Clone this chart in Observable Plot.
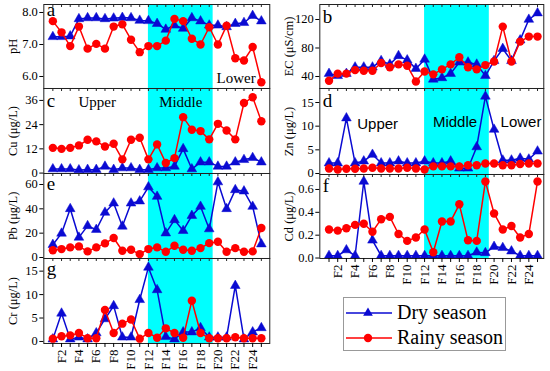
<!DOCTYPE html>
<html><head><meta charset="utf-8">
<script src="https://cdn.jsdelivr.net/npm/d3@7"></script>
<script src="https://cdn.jsdelivr.net/npm/@observablehq/plot@0.6"></script>
<style>
body{margin:0;background:#fff;}
#chart{position:relative;width:550px;height:371px;overflow:hidden;font-family:"Liberation Serif",serif;}
#chart svg{font-family:"Liberation Serif",serif !important;}
.p{position:absolute;}
</style></head><body><div id="chart"></div>
<script>
const sites = ["F1","F2","F3","F4","F5","F6","F7","F8","F9","F10","F11","F12","F13","F14","F15","F16","F17","F18","F19","F20","F21","F22","F23","F24","F25"];
const middleBand = [12, 19.45];

const phDry   = [7.24,7.24,7.26,7.8,7.83,7.83,7.8,7.82,7.84,7.83,7.75,7.74,7.65,7.47,7.6,7.5,7.83,7.73,7.6,7.6,7.55,7.65,7.68,7.9,7.73];
const phRainy = [7.73,7.38,6.95,7.56,6.87,7.02,6.87,7.56,7.63,7.15,6.76,6.95,6.95,7.12,7.8,7.73,7.18,7.0,7.54,7.0,7.59,6.57,6.5,6.92,5.82];
const ecDry   = [44,41,44,53,53,53,62,57,69,63,51,64,36,38,44,60,60,57,41,62,79,62,91,120,129];
const ecRainy = [34,44,44,49,48,48,59,53,57,55,33,47,43,50,57,67,53,50,56,61,110,61,89,96,96];
const cuDry   = [2,2,2,1.5,1.7,1.7,3.3,1.7,2.5,2.5,1.7,1.7,2.5,2.5,3.3,12,2,5.4,5.4,3.3,3.3,5.4,6.6,7.6,5.4];
const cuRainy = [12.5,12,12.5,13.7,16.5,15.7,13.2,14.5,6.8,16.5,17.5,6.8,14.2,5,7.4,27.7,21.5,20.8,16.7,24.4,21.1,16.7,34.7,37.6,25.7];
const znDry   = [2.2,2.2,11.7,2.2,2.6,4,2.2,2.2,2.6,2.2,2.2,2.6,2.2,2.2,2.6,1.1,1.1,5.6,16.3,9.3,2.8,2.8,3.2,3,4.7];
const znRainy = [1.05,0.85,1,1,1.05,1.2,1.05,1.05,1.05,1.2,1.05,0.85,1.5,1.5,1.5,1.5,1.75,1.75,2.1,2.1,1.75,1.75,2,2.1,2.1];
const pbDry   = [10.5,19.8,40,16.5,26,22.9,37,44.6,25.6,44.6,46.3,57.9,50.1,20,30.9,22,34.4,41.9,23.4,62,40,55.6,54.5,41.9,11];
const pbRainy = [6,6.9,8.3,9.1,5,8.3,11.6,16,5.5,6.3,2.8,6.9,8.3,4.7,9.6,6.3,5.5,7.7,11.8,12.9,4.7,7.7,4.7,5,24.2];
const cdDry   = [0.02,0.02,0.07,0.02,0.67,0.155,0.02,0.02,0.02,0.02,0.02,0.02,0.02,0.02,0.02,0.02,0.02,0.05,0.045,0.1,0.09,0.06,0.02,0.02,0.02];
const cdRainy = [0.25,0.24,0.26,0.29,0.3,0.23,0.34,0.36,0.21,0.15,0.18,0.25,0.05,0.32,0.32,0.47,0.155,0.15,0.67,0.39,0.25,0.28,0.18,0.21,0.67];
const crDry   = [0.5,6,0.5,0.9,0.5,1.8,4.8,7.6,0.9,0.9,8.9,15.8,11,1,0.5,2,2,2.9,0.9,0.9,0.9,11.9,0.5,2,2.9];
const crRainy = [0.6,1.1,1.3,1.8,0.7,0.7,6.7,1.8,3.8,4.7,0.6,1.8,0.8,2.8,1.8,0.8,8.7,1.8,0.7,0.7,0.7,0.9,0.7,0.7,0.7];

const seriesNames = ["Dry season","Rainy season"];
const DRY = "#0a0ad2", RAINY = "#ff0000";
const chart = document.getElementById("chart");
const xs = sites.map((s, i) => i + 1);
const rows = vals => vals.map((v, i) => ({x: i + 1, y: v}));
const midX = (middleBand[0] + middleBand[1]) / 2;

function panel(o) {
  const {left, top, h, width, mL, xDomain, yDomain, yTicks, yFormat, dry, rainy, label, letter, letterDy, notes = [], bottom = false} = o;
  const marks = [
    Plot.rect([middleBand], {x1: d => d[0], x2: d => d[1], fill: "#00ffff"}),
    Plot.line(rows(dry), {x: "x", y: "y", stroke: DRY, strokeWidth: 1.5}),
    Plot.dot(rows(dry), {x: "x", y: "y", symbol: "triangle", r: 3.6, fill: DRY, stroke: DRY, strokeWidth: 0.5}),
    Plot.line(rows(rainy), {x: "x", y: "y", stroke: RAINY, strokeWidth: 1.5}),
    Plot.dot(rows(rainy), {x: "x", y: "y", r: 4.2, fill: RAINY}),
    Plot.frame({stroke: "#222"}),
    Plot.tickX(xs, {x: d => d, insetBottom: h - 3, stroke: "#222"}),
    Plot.axisY({ticks: yTicks, tickFormat: yFormat, tickSize: 4, tickPadding: 2, fontSize: 12.5, label, labelAnchor: "center", labelArrow: "none", labelOffset: 36}),
    Plot.text([letter], {frameAnchor: "top-left", dx: 3, dy: letterDy, fontSize: 19, lineAnchor: "bottom", textAnchor: "start", text: d => d, fill: "#000"}),
    ...notes.map(n => Plot.text([n], {x: d => d.x, frameAnchor: n.anchor, dy: n.dy, text: d => d.text, fontSize: 15, lineAnchor: "bottom", fontFamily: n.font || "Liberation Serif", fill: "#000"}))
  ];
  if (bottom) marks.push(Plot.axisX({ticks: xs, tickSize: 4, tickPadding: 2, tickRotate: -90, tickFormat: d => d % 2 === 0 ? sites[d - 1] : "", fontSize: 13, label: null}));
  const svg = Plot.plot({
    width, height: h, marginLeft: mL, marginRight: 0, marginTop: 0, marginBottom: 0,
    x: {domain: xDomain, axis: bottom ? undefined : null},
    y: {domain: yDomain},
    style: {fontFamily: "'Liberation Serif', serif", fontSize: "12px", overflow: "visible", background: "none", color: "#000"},
    marks
  });
  const div = document.createElement("div");
  div.className = "p";
  div.style.left = left + "px";
  div.style.top = top + "px";
  div.appendChild(svg);
  chart.appendChild(div);
}

const L = {left: 0, width: 269.3, mL: 43.3, xDomain: [-0.04, 25.97]};
const R = {left: 276, width: 267.3, mL: 43.3, xDomain: [-0.06, 25.72]};

panel({...L, top: 4, h: 84, yDomain: [5.625, 8.25], yTicks: [6, 7, 8], dry: phDry, rainy: phRainy, label: "pH", letter: "a", letterDy: 12,
  notes: [{text: "Lower", x: 22.1, anchor: "bottom", dy: -5}]});
panel({...L, top: 88, h: 85, yDomain: [-0.2, 41.9], yTicks: [0, 12, 24, 36], dry: cuDry, rainy: cuRainy, label: "Cu (μg/L)", letter: "c", letterDy: 19,
  notes: [{text: "Upper", x: 6.1, anchor: "top", dy: 19}, {text: "Middle", x: midX, anchor: "top", dy: 19}]});
panel({...L, top: 173, h: 85, yDomain: [-0.82, 69.04], yTicks: [0, 20, 40, 60], dry: pbDry, rainy: pbRainy, label: "Pb (μg/L)", letter: "e", letterDy: 17});
panel({...L, top: 258, h: 85, yDomain: [-0.43, 17.7], yTicks: [0, 5, 10, 15], dry: crDry, rainy: crRainy, label: "Cr (μg/L)", letter: "g", letterDy: 17, bottom: true});

panel({...R, top: 4, h: 84, yDomain: [23.16, 141.05], yTicks: [40, 80, 120], dry: ecDry, rainy: ecRainy, label: "EC (μS/cm)", letter: "b", letterDy: 19});
panel({...R, top: 88, h: 86, yDomain: [-0.21, 17.96], yTicks: [0, 5, 10, 15], dry: znDry, rainy: znRainy, label: "Zn (μg/L)", letter: "d", letterDy: 19,
  notes: [{text: "Upper", x: 6.6, anchor: "top", dy: 41, font: "Liberation Sans"}, {text: "Middle", x: 15.5, anchor: "top", dy: 39, font: "Liberation Sans"}, {text: "Lower", x: 23.1, anchor: "top", dy: 39, font: "Liberation Sans"}]});
panel({...R, top: 174, h: 84, yDomain: [-0.004, 0.731], yTicks: [0, 0.2, 0.4, 0.6], yFormat: d3.format(".1f"), dry: cdDry, rainy: cdRainy, label: "Cd (μg/L)", letter: "f", letterDy: 18, bottom: true});

// legend
const ns = "http://www.w3.org/2000/svg";
const leg = document.createElementNS(ns, "svg");
leg.setAttribute("width", 164); leg.setAttribute("height", 55);
leg.style.position = "absolute"; leg.style.left = "343px"; leg.style.top = "297px";
const items = [
  {name: seriesNames[0], color: DRY, sym: d3.symbol(d3.symbolTriangle, 3.6 * 3.6 * Math.PI)(), y: 16},
  {name: seriesNames[1], color: RAINY, sym: d3.symbol(d3.symbolCircle, 4.2 * 4.2 * Math.PI)(), y: 41}
];
let html = `<rect x="0.5" y="0.5" width="162" height="53" fill="white" stroke="#999"/>`;
for (const it of items) {
  html += `<line x1="3" x2="49" y1="${it.y}" y2="${it.y}" stroke="${it.color}" stroke-width="1.5"/>`;
  html += `<path d="${it.sym}" transform="translate(25,${it.y})" fill="${it.color}"/>`;
  html += `<text x="54" y="${it.y + 6}" font-family="Liberation Serif" font-size="20" fill="#000">${it.name}</text>`;
}
leg.innerHTML = html;
chart.appendChild(leg);
</script></body></html>
